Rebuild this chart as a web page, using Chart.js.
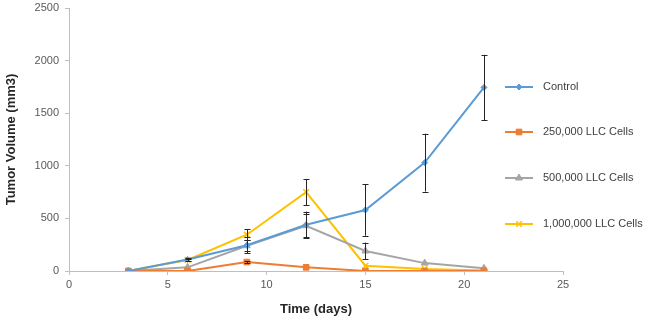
<!DOCTYPE html>
<html>
<head>
<meta charset="utf-8">
<script src="https://cdn.jsdelivr.net/npm/chart.js@4"></script>
<style>
  html, body { margin: 0; padding: 0; background: #fff; }
  #wrap { width: 650px; height: 321px; }
</style>
</head>
<body>
<div id="wrap"><canvas id="tumorChart"></canvas></div>
<script>
// Days of measurement
const days = [3, 6, 9, 12, 15, 18, 21];

// Tumor volume (mm3) per group, with error bar half-widths
const control     = [0, 110, 245, 440, 580, 1030, 1745];
const controlErr  = [0, 12, 75, 125, 245, 275, 310];
const cells250k    = [0, 0, 85, 35, 0, 0, 0];
const cells250kErr = [0, 0, 10, 0, 0, 0, 0];
const cells500k    = [0, 35, 240, 430, 190, 75, 25];
const cells500kErr = [0, 0, 50, 110, 80, 0, 0];
const cells1m      = [0, 105, 345, 750, 50, 20, 5];
const cells1mErr   = [0, 12, 50, 125, 0, 0, 0];

const xTicks = [0, 5, 10, 15, 20, 25];
const yTicks = [0, 500, 1000, 1500, 2000, 2500];

const FONT = "'Liberation Sans', Arial, sans-serif";

function toPoints(vals) {
    return days.map((d, i) => ({ x: d, y: vals[i] }));
}

// Draw vertical error bars with caps through the y scale
const errorBars = {
    id: 'errorBars',
    afterDatasetsDraw(chart) {
        const ctx = chart.ctx;
        const yScale = chart.scales.y;
        ctx.save();
        ctx.strokeStyle = '#262626';
        ctx.lineWidth = 1;
        chart.data.datasets.forEach((ds, di) => {
            if (!ds.errors) return;
            const meta = chart.getDatasetMeta(di);
            meta.data.forEach((pt, i) => {
                const e = ds.errors[i];
                if (!e) return;
                const v = ds.data[i].y;
                const top = yScale.getPixelForValue(v + e);
                const bot = yScale.getPixelForValue(Math.max(v - e, 0));
                const x = Math.round(pt.x) + 0.5;
                ctx.beginPath();
                ctx.moveTo(x, top); ctx.lineTo(x, bot);
                ctx.moveTo(x - 3, Math.round(top) + 0.5); ctx.lineTo(x + 3, Math.round(top) + 0.5);
                ctx.moveTo(x - 3, Math.round(bot) + 0.5); ctx.lineTo(x + 3, Math.round(bot) + 0.5);
                ctx.stroke();
            });
        });
        ctx.restore();
    }
};

// Legend placed at the right, line sample with marker
const sideLegend = {
    id: 'sideLegend',
    afterDraw(chart) {
        const ctx = chart.ctx;
        const x0 = 505, x1 = 533, tx = 543;
        const ys = [87, 132, 178, 224];
        ctx.save();
        chart.data.datasets.forEach((ds, i) => {
            const y = ys[i];
            ctx.strokeStyle = ds.borderColor;
            ctx.fillStyle = ds.borderColor;
            ctx.lineWidth = 2;
            ctx.beginPath();
            ctx.moveTo(x0, y); ctx.lineTo(x1, y);
            ctx.stroke();
            ctx.lineWidth = ds.pointBorderWidth;
            Chart.helpers.drawPoint(ctx, {
                pointStyle: ds.pointStyle,
                radius: ds.pointRadius,
                borderWidth: ds.pointBorderWidth
            }, (x0 + x1) / 2, y);
            ctx.fillStyle = '#404040';
            ctx.font = '11px ' + FONT;
            ctx.textBaseline = 'middle';
            ctx.textAlign = 'left';
            ctx.fillText(ds.label, tx, y);
        });
        ctx.restore();
    }
};

function series(label, vals, errs, color, style, radius) {
    return {
        label: label,
        data: toPoints(vals),
        errors: errs,
        showLine: true,
        borderColor: color,
        backgroundColor: color,
        borderWidth: 2,
        pointStyle: style,
        pointRadius: radius,
        pointBorderColor: color,
        pointBackgroundColor: color,
        pointBorderWidth: style === 'crossRot' ? 1.5 : 1
    };
}

new Chart(document.getElementById('tumorChart'), {
    type: 'scatter',
    data: {
        datasets: [
            series('Control', control, controlErr, '#5B9BD5', 'rectRot', 3),
            series('250,000 LLC Cells', cells250k, cells250kErr, '#ED7D31', 'rect', 4),
            series('500,000 LLC Cells', cells500k, cells500kErr, '#A5A5A5', 'triangle', 4),
            series('1,000,000 LLC Cells', cells1m, cells1mErr, '#FFC000', 'crossRot', 4)
        ]
    },
    options: {
        responsive: true,
        maintainAspectRatio: false,
        animation: false,
        layout: { padding: { left: 0, right: 87, top: 8, bottom: 0 } },
        plugins: {
            legend: { display: false },
            tooltip: { enabled: false }
        },
        scales: {
            x: {
                type: 'linear',
                min: 0, max: 25,
                afterBuildTicks: (s) => { s.ticks = xTicks.map(v => ({ value: v })); },
                afterFit: (s) => { s.height = 50; s.paddingLeft = 0; s.paddingRight = 0; },
                grid: { drawOnChartArea: false, color: '#BFBFBF', tickLength: 4 },
                border: { color: '#BFBFBF' },
                ticks: { color: '#595959', font: { family: FONT, size: 11 }, padding: 3,
                         callback: (v) => String(v) },
                title: {
                    display: true, text: 'Time (days)', color: '#262626',
                    font: { family: FONT, size: 13, weight: 'bold' }, padding: { top: 4 }
                }
            },
            y: {
                min: 0, max: 2500,
                afterBuildTicks: (s) => { s.ticks = yTicks.map(v => ({ value: v })); },
                afterFit: (s) => { s.width = 69; s.paddingTop = 0; s.paddingBottom = 0; },
                grid: { drawOnChartArea: false, color: '#BFBFBF', tickLength: 4 },
                border: { color: '#BFBFBF' },
                ticks: { color: '#595959', font: { family: FONT, size: 11 }, padding: 6,
                         callback: (v) => String(v) },
                title: {
                    display: true, text: 'Tumor Volume (mm3)', color: '#262626',
                    font: { family: FONT, size: 13, weight: 'bold' }, padding: { bottom: 6 }
                }
            }
        }
    },
    plugins: [errorBars, sideLegend]
});
</script>
</body>
</html>
